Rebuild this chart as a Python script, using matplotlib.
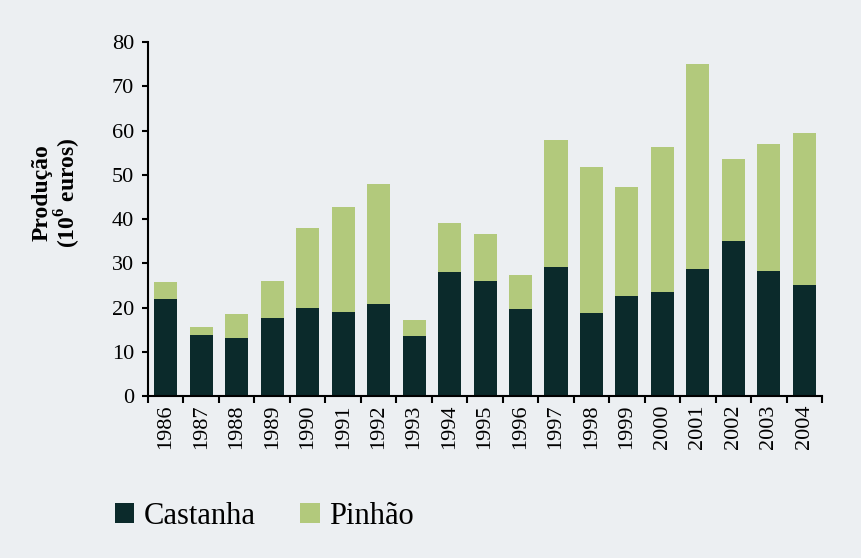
import numpy as np
import matplotlib
matplotlib.use("Agg")
import matplotlib.pyplot as plt

# Dados
anos = [str(a) for a in range(1986, 2005)]
castanha = [22.0, 13.8, 13.0, 17.6, 20.0, 19.0, 20.7, 13.5, 28.0, 26.1,
            19.7, 29.2, 18.7, 22.6, 23.6, 28.6, 35.0, 28.2, 25.1]
total = [25.8, 15.7, 18.6, 26.0, 38.0, 42.8, 47.9, 17.2, 39.2, 36.6,
         27.3, 57.9, 51.8, 47.3, 56.3, 75.1, 53.5, 56.9, 59.5]
pinhao = [t - c for t, c in zip(total, castanha)]

fundo = '#ECEFF2'
cor_castanha = '#0B2A2B'
cor_pinhao = '#B2C97C'

plt.rcParams['font.family'] = ['Liberation Serif', 'DejaVu Serif']
plt.rcParams['mathtext.fontset'] = 'custom'
plt.rcParams['mathtext.rm'] = 'Liberation Serif'
plt.rcParams['mathtext.bf'] = 'Liberation Serif:bold'

fig = plt.figure(figsize=(8.62, 5.58), dpi=100, facecolor=fundo)
ax = fig.add_axes([0.1717, 0.2903, 0.782, 0.6344], facecolor=fundo)

x = np.arange(len(anos))
ax.bar(x, castanha, width=0.65, color=cor_castanha, label='Castanha')
ax.bar(x, pinhao, width=0.65, bottom=castanha, color=cor_pinhao, label='Pinhão')

ax.set_xlim(-0.5, len(anos) - 0.5)
ax.set_ylim(0, 80)
ax.set_yticks(range(0, 81, 10))
ax.tick_params(axis='y', labelsize=16, length=4, width=1.5, direction='out', pad=6)

# rótulos dos anos sem marca; marcas entre as barras
ax.set_xticks(x)
ax.set_xticklabels(anos, rotation=90, fontsize=16)
ax.tick_params(axis='x', which='major', length=0, pad=6)
ax.set_xticks(np.arange(-0.5, len(anos)), minor=True)
ax.tick_params(axis='x', which='minor', length=5, width=1.5, direction='out')

for lado in ['top', 'right']:
    ax.spines[lado].set_visible(False)
for lado in ['left', 'bottom']:
    ax.spines[lado].set_linewidth(1.5)

ax.set_ylabel('Produção\n(10$^{\\mathbf{6}}$ euros)', fontsize=17,
              fontweight='bold', linespacing=1.0)
ax.yaxis.set_label_coords(-0.097, 0.575)

fig.legend(loc='lower left', bbox_to_anchor=(0.101, 0.0), ncol=2,
           frameon=False, fontsize=22, handlelength=0.65, handleheight=0.65,
           handletextpad=0.3, columnspacing=1.45)

fig.savefig('out.png', dpi=100, facecolor=fundo)
